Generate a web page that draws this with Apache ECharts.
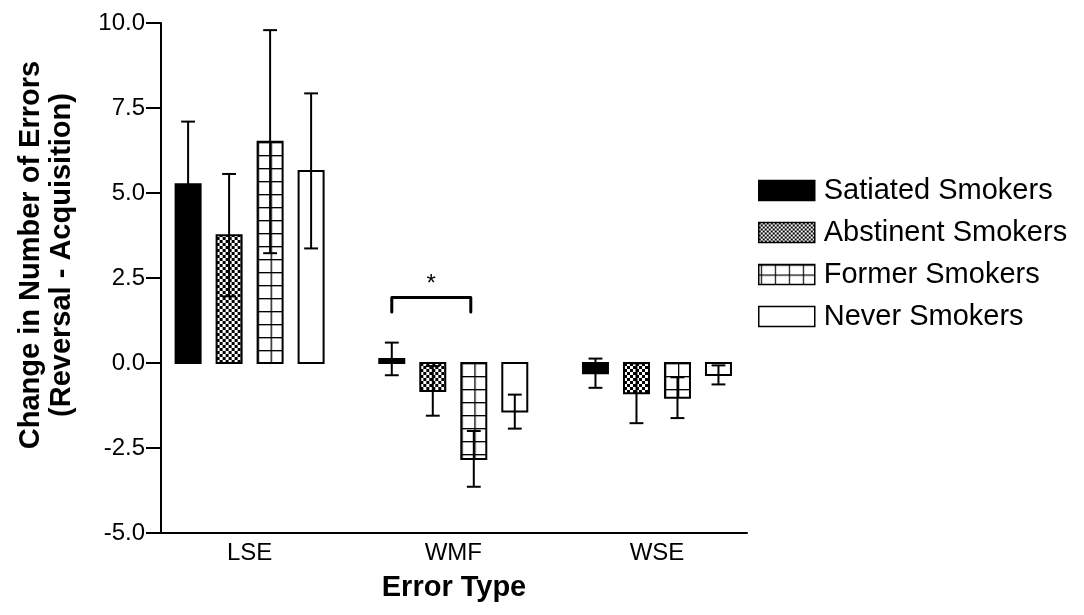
<!DOCTYPE html>
<html><head><meta charset="utf-8">
<script src="https://cdn.jsdelivr.net/npm/echarts@6/dist/echarts.min.js"></script>
<style>html,body{margin:0;padding:0;background:#fff}#c{width:1084px;height:615px}</style>
</head><body><div id="c"></div>
<script>
// ---- data ----
const categories = ['LSE', 'WMF', 'WSE'];
const groups = ['Satiated Smokers', 'Abstinent Smokers', 'Former Smokers', 'Never Smokers'];
const satiatedMean = [5.26, 0.12, -0.30];
const satiatedErr  = [1.84, 0.48, 0.43];
const abstinentMean = [3.76, -0.82, -0.89];
const abstinentErr  = [1.80, 0.73, 0.88];
const formerMean = [6.51, -2.82, -1.02];
const formerErr  = [3.28, 0.82, 0.60];
const neverMean = [5.65, -1.43, -0.35];
const neverErr  = [2.28, 0.50, 0.28];
const yTickValues = [-5, -2.5, 0, 2.5, 5, 7.5, 10];
const sigCategory = 'WMF';
const sigGroups = [0, 2];
const sigTop = 1.93;
const sigDrop = 1.5;
const sigMarkY = 2.3;
const sigMark = '*';

// ---- styles ----
const FONT = "'Liberation Sans', Arial, Helvetica, sans-serif";
function makeTile(w, h, draw) {
  const c = document.createElement('canvas');
  c.width = w; c.height = h;
  const g = c.getContext('2d');
  g.fillStyle = '#fff'; g.fillRect(0, 0, w, h);
  g.fillStyle = '#000';
  draw(g, w, h);
  return c;
}
const checkerTile = makeTile(6, 6, g => { g.fillRect(0, 0, 3, 3); g.fillRect(3, 3, 3, 3); });
const checkerTileSmall = makeTile(4, 4, g => { g.fillRect(0, 0, 2, 2); g.fillRect(2, 2, 2, 2); });
const gridTile = makeTile(13, 13, g => { g.fillRect(0, 0, 13, 1.3); g.fillRect(0, 0, 1.3, 13); });
const gridTileLegend = makeTile(14, 10, g => { g.fillRect(0, 0, 14, 1.2); g.fillRect(0, 0, 1.2, 10); });
const fills = ['#000', checkerTile, gridTile, '#fff'];

const STEP = 0.2013;   // spacing between bars, fraction of category unit
const BARW = 0.1227;   // bar width, fraction of category unit
const CAPW = 0.068;    // error-bar cap width

function renderBars(params, api) {
  const s = params.seriesIndex;
  const cat = api.value(0), v = api.value(1), e = api.value(2);
  const band = api.size([1, 0])[0];
  const base = api.coord([cat, 0]);
  const topP = api.coord([cat, v]);
  const cx = base[0] + (s - 1.5) * band * STEP;
  const w = band * BARW;
  const x0 = cx - w / 2;
  const y0 = Math.min(base[1], topP[1]);
  const h = Math.abs(base[1] - topP[1]);
  const hi = api.coord([cat, v + e])[1];
  const lo = api.coord([cat, v - e])[1];
  const cap = band * CAPW;
  let fill = fills[s];
  if (typeof fill !== 'string') fill = { image: fill, repeat: 'repeat', x: x0, y: base[1] };
  const ls = { stroke: '#000', lineWidth: 2 };
  return {
    type: 'group',
    children: [
      { type: 'rect', shape: { x: x0, y: y0, width: w, height: h }, style: { fill: fill, stroke: '#000', lineWidth: 2 } },
      { type: 'line', shape: { x1: cx, y1: hi, x2: cx, y2: lo }, style: ls },
      { type: 'line', shape: { x1: cx - cap / 2, y1: hi, x2: cx + cap / 2, y2: hi }, style: ls },
      { type: 'line', shape: { x1: cx - cap / 2, y1: lo, x2: cx + cap / 2, y2: lo }, style: ls }
    ]
  };
}

function renderSig(params, api) {
  const cat = api.value(0), top = api.value(1), drop = api.value(2), my = api.value(3);
  const band = api.size([1, 0])[0];
  const c = api.coord([cat, top]);
  const xa = c[0] + (sigGroups[0] - 1.5) * band * STEP;
  const xb = c[0] + (sigGroups[1] - 1.5) * band * STEP - 3;
  const yt = c[1];
  const yd = api.coord([cat, drop])[1];
  const ym = api.coord([cat, my])[1];
  return {
    type: 'group',
    children: [
      { type: 'polyline', shape: { points: [[xa, yd], [xa, yt], [xb, yt], [xb, yd]] },
        style: { stroke: '#000', lineWidth: 3, fill: null, lineCap: 'round', lineJoin: 'round' } },
      { type: 'text', x: (xa + xb) / 2, y: ym,
        style: { text: sigMark, font: '24px ' + FONT, fill: '#000', align: 'center', verticalAlign: 'middle' } }
    ]
  };
}

const means = [satiatedMean, abstinentMean, formerMean, neverMean];
const errs = [satiatedErr, abstinentErr, formerErr, neverErr];

const series = groups.map((name, s) => ({
  name: name,
  type: 'custom',
  renderItem: renderBars,
  encode: { x: 0, y: 1 },
  itemStyle: { color: s === 0 ? '#000' : (s === 3 ? '#fff' : '#888'), borderColor: '#000', borderWidth: 2 },
  data: categories.map((c, i) => [i, means[s][i], errs[s][i]]),
  animation: false,
  silent: true
}));
series.push({
  name: 'sig',
  type: 'custom',
  renderItem: renderSig,
  encode: { x: 0, y: 1 },
  data: [[categories.indexOf(sigCategory), sigTop, sigDrop, sigMarkY]],
  animation: false,
  silent: true
});

const legendFills = ['#000',
  { image: checkerTileSmall, repeat: 'repeat' },
  { image: gridTileLegend, repeat: 'repeat', x: 758, y: 0 },
  '#fff'];

const chart = echarts.init(document.getElementById('c'), null, { renderer: 'canvas' });
chart.setOption({
  animation: false,
  backgroundColor: '#fff',
  grid: { left: 161, right: 337, top: 23, bottom: 82, containLabel: false },
  legend: {
    orient: 'vertical',
    left: 758, top: 176,
    icon: 'rect',
    itemWidth: 56, itemHeight: 20, itemGap: 13,
    padding: 0,
    selectedMode: false,
    textStyle: { fontSize: 29, color: '#000', fontFamily: FONT, padding: [0, 0, 0, 4] },
    data: groups.map((g, i) => ({ name: g, itemStyle: { color: legendFills[i], borderColor: '#000', borderWidth: 1.5 } }))
  },
  xAxis: {
    type: 'value',
    min: -0.435, max: 2.442,
    axisLine: { show: true, onZero: false, lineStyle: { color: '#000', width: 2 } },
    axisTick: { show: false },
    splitLine: { show: false },
    axisLabel: {
      customValues: categories.map((c, i) => i),
      formatter: v => categories[Math.round(v)],
      fontSize: 24, color: '#000', fontFamily: FONT, margin: 8
    },
    name: 'Error Type',
    nameLocation: 'middle',
    nameGap: 40,
    nameTextStyle: { fontSize: 29, fontWeight: 'bold', color: '#000', fontFamily: FONT }
  },
  yAxis: {
    type: 'value',
    min: yTickValues[0], max: yTickValues[yTickValues.length - 1], interval: 2.5,
    axisLine: { show: true, onZero: false, lineStyle: { color: '#000', width: 2 } },
    axisTick: { show: true, inside: false, length: 15, lineStyle: { color: '#000', width: 2 } },
    splitLine: { show: false },
    axisLabel: { formatter: v => v.toFixed(1), fontSize: 24, color: '#000', fontFamily: FONT, margin: 16 },
    name: 'Change in Number of Errors\n(Reversal - Acquisition)',
    nameLocation: 'middle',
    nameGap: 84,
    nameTextStyle: { fontSize: 29, fontWeight: 'bold', color: '#000', fontFamily: FONT, lineHeight: 31, padding: [0, 0, 0, 46] }
  },
  series: series
});
</script>
</body></html>
